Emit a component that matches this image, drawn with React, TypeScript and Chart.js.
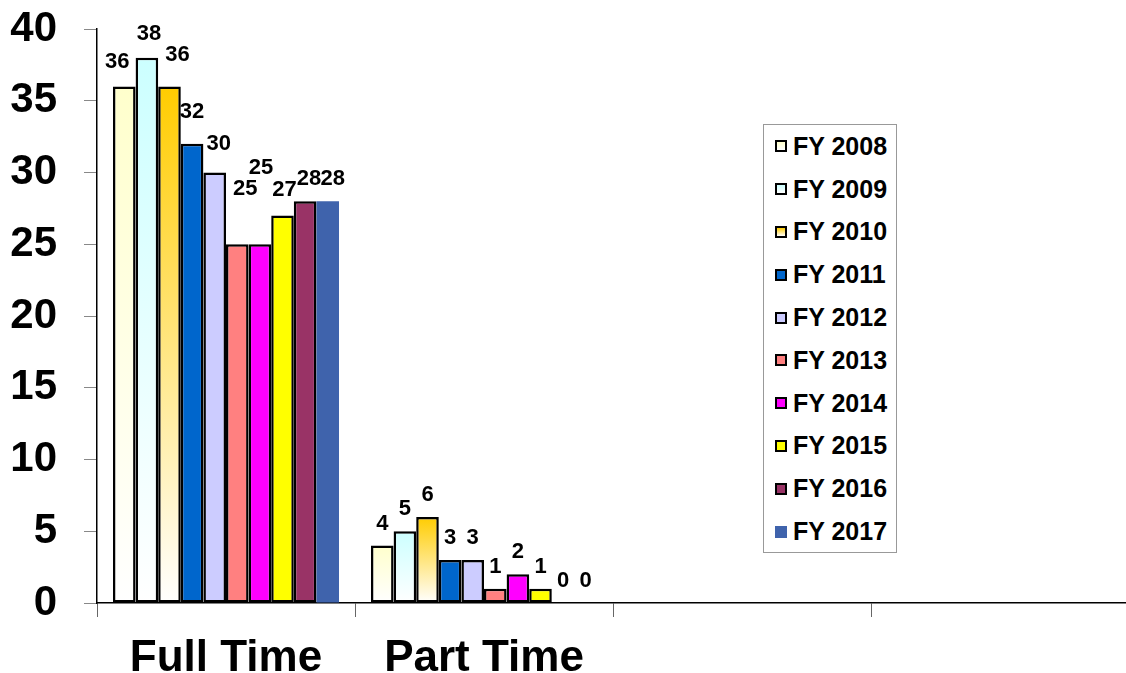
import { useEffect, useRef } from 'react';
import { Chart, registerables } from 'chart.js';

Chart.register(...registerables);

// ---------- data ----------
const categories = ['Full Time', 'Part Time', '', ''];
const seriesNames = ['FY 2008', 'FY 2009', 'FY 2010', 'FY 2011', 'FY 2012', 'FY 2013', 'FY 2014', 'FY 2015', 'FY 2016', 'FY 2017'];
const fy2008 = [36, 4, null, null];
const fy2009 = [38, 5, null, null];
const fy2010 = [36, 6, null, null];
const fy2011 = [32, 3, null, null];
const fy2012 = [30, 3, null, null];
const fy2013 = [25, 1, null, null];
const fy2014 = [25, 2, null, null];
const fy2015 = [27, 1, null, null];
const fy2016 = [28, 0, null, null];
const fy2017 = [28, 0, null, null];
const seriesValues = [fy2008, fy2009, fy2010, fy2011, fy2012, fy2013, fy2014, fy2015, fy2016, fy2017];
const yMin = 0;
const yMax = 40;
const yStep = 5;

// ---------- styles ----------
const topColors = ['#FFFFCC', '#CCFFFF', '#FFCC00', '#0066CC', '#CCCCFF', '#FF8080', '#FF00FF', '#FFFF00', '#993366', '#3F63AC'];
const gradientToWhite = [true, true, true, false, false, false, false, false, false, false];
const hasBorder = [true, true, true, true, true, true, true, true, true, false];
// label nudges (dx, dy) per category, per series — mimics the staggered placement in the source
const labelNudgesFullTime = [[-7, -2], [2, -2], [8, -9], [0, -10], [4, -7], [8, -33], [1, -54], [2, -4], [4, 0], [5, 0]];
const labelNudgesPartTime = [[0, 0], [0, 0], [0, 0], [0, 0], [0, 0], [0, 0], [0, 0], [0, 0], [0, 0], [0, 0]];
const labelNudges = [labelNudgesFullTime, labelNudgesPartTime];

const FONT = '"Liberation Sans", Arial, Helvetica, sans-serif';

const valueLabels = {
  id: 'valueLabels',
  afterDatasetsDraw(chart: any) {
    const c = chart.ctx;
    c.save();
    c.font = `bold 22px ${FONT}`;
    c.fillStyle = '#000';
    c.textAlign = 'center';
    c.textBaseline = 'middle';
    chart.data.datasets.forEach((ds: any, di: number) => {
      const meta = chart.getDatasetMeta(di);
      meta.data.forEach((bar: any, i: number) => {
        const v = ds.data[i];
        if (v === null || v === undefined) return;
        const n = (labelNudges[i] && labelNudges[i][di]) || [0, 0];
        c.fillText(String(v), bar.x + n[0], bar.y - 22 + n[1]);
      });
    });
    c.restore();
  },
};

function makeFill(di: number) {
  return (ctx: any) => {
    const top = topColors[di];
    if (!gradientToWhite[di]) return top;
    const chart = ctx.chart;
    const ys = chart.scales && chart.scales.y;
    if (!ys || ctx.raw === null || ctx.raw === undefined) return top;
    const yTop = ys.getPixelForValue(ctx.raw);
    const yBot = ys.getPixelForValue(0);
    if (!isFinite(yTop) || !isFinite(yBot) || yBot - yTop < 1) return top;
    const g = chart.ctx.createLinearGradient(0, yTop, 0, yBot);
    g.addColorStop(0, top);
    g.addColorStop(1, '#FFFFFF');
    return g;
  };
}

export default function App() {
  const ref = useRef<HTMLCanvasElement | null>(null);

  useEffect(() => {
    if (!ref.current) return;
    const chart = new Chart(ref.current, {
      type: 'bar',
      data: {
        labels: categories,
        datasets: seriesNames.map((name, di) => ({
          label: name,
          data: seriesValues[di],
          backgroundColor: makeFill(di),
          borderColor: '#000',
          borderWidth: hasBorder[di] ? 2.5 : 0,
          borderSkipped: false,
          barPercentage: 1,
          categoryPercentage: 0.876,
        })),
      },
      options: {
        animation: false,
        responsive: true,
        maintainAspectRatio: false,
        layout: { padding: { top: 29, right: 1, left: 0, bottom: 0 } },
        plugins: {
          legend: { display: false },
          tooltip: { enabled: false },
        },
        scales: {
          x: {
            type: 'category',
            offset: true,
            grid: { display: true, drawOnChartArea: false, offset: true, tickLength: 14, color: '#666', lineWidth: 1 },
            border: { display: true, color: '#000', width: 1.5 },
            ticks: { color: '#000', font: { family: FONT, size: 44, weight: 'bold' }, padding: 15, maxRotation: 0, autoSkip: false },
            afterFit: (s: any) => { s.height = 70; },
          },
          y: {
            min: yMin,
            max: yMax,
            grid: { display: true, drawOnChartArea: false, tickLength: 13, color: '#888', lineWidth: 1 },
            border: { display: true, color: '#000', width: 1.5 },
            ticks: { stepSize: yStep, color: '#000', font: { family: FONT, size: 42, weight: 'bold' }, padding: 27 },
            afterFit: (s: any) => { s.width = 97; s.paddingTop = 0; s.paddingBottom = 0; },
          },
        },
      },
      plugins: [valueLabels],
    } as any);
    return () => chart.destroy();
  }, []);

  return (
    <div style={{ position: 'fixed', left: 0, top: 0, width: 1126, height: 673, overflow: 'hidden', background: '#fff' }}>
      <div style={{ position: 'absolute', left: 0, top: 0, width: 1130, height: 673 }}>
        <canvas ref={ref} />
      </div>
      <div
        style={{
          position: 'absolute',
          left: 763,
          top: 124,
          width: 134,
          height: 429,
          boxSizing: 'border-box',
          border: '1.5px solid #999',
          background: '#fff',
          fontFamily: FONT,
        }}
      >
        {seriesNames.map((name, di) => (
          <div key={name} style={{ height: 42.8, display: 'flex', alignItems: 'center', paddingLeft: 11 }}>
            <span
              style={{
                display: 'inline-block',
                width: 12,
                height: 12,
                boxSizing: 'border-box',
                border: hasBorder[di] ? '2px solid #000' : 'none',
                background: gradientToWhite[di] ? `linear-gradient(to bottom, ${topColors[di]}, #fff)` : topColors[di],
                marginRight: 6,
                flexShrink: 0,
              }}
            />
            <span style={{ fontWeight: 'bold', fontSize: 25, color: '#000', lineHeight: 1, whiteSpace: 'nowrap' }}>{name}</span>
          </div>
        ))}
      </div>
    </div>
  );
}
